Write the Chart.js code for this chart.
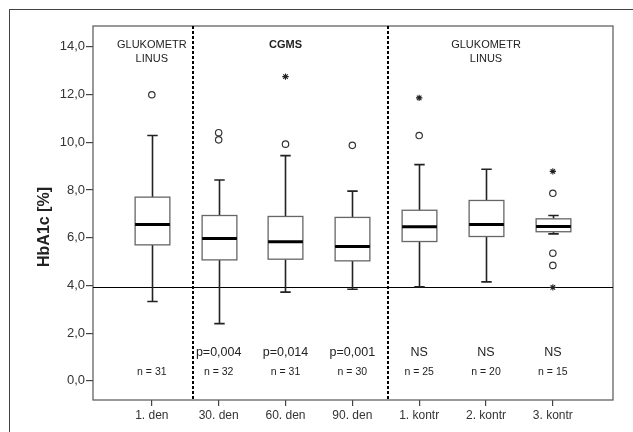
<!DOCTYPE html>
<html>
<head>
<meta charset="utf-8">
<script src="https://cdn.jsdelivr.net/npm/chart.js@4.4.0/dist/chart.umd.min.js"></script>
<style>
  html, body { margin: 0; padding: 0; background: #fff; }
  #wrap { position: relative; width: 633px; height: 432px; }
</style>
</head>
<body>
<div id="wrap"><canvas id="chart" width="633" height="432"></canvas></div>
<script>
// categories and box statistics
const categories = ['1. den', '30. den', '60. den', '90. den', '1. kontr', '2. kontr', '3. kontr'];
const whiskerLow  = [3.33, 2.40, 3.72, 3.84, 3.94, 4.15, 6.16];
const q1          = [5.70, 5.07, 5.10, 5.03, 5.84, 6.05, 6.25];
const median      = [6.55, 5.97, 5.83, 5.63, 6.46, 6.55, 6.47];
const q3          = [7.70, 6.93, 6.89, 6.85, 7.15, 7.56, 6.79];
const whiskerHigh = [10.28, 8.42, 9.44, 7.95, 9.06, 8.87, 6.93];

// outliers: [category index, value]
const outliersCircle = [[0, 11.99], [1, 10.40], [1, 10.10], [2, 9.92], [3, 9.87], [4, 10.28], [6, 7.86], [6, 5.35], [6, 4.84]];
const outliersStar   = [[2, 12.75], [4, 11.86], [6, 8.78], [6, 3.92]];

const pLabels = ['', 'p=0,004', 'p=0,014', 'p=0,001', 'NS', 'NS', 'NS'];
const nLabels = ['n = 31', 'n = 32', 'n = 31', 'n = 30', 'n = 25', 'n = 20', 'n = 15'];
const yTicks = [0, 2, 4, 6, 8, 10, 12, 14];
const refLine = 3.95;
const separators = [0.61, 3.53];
const groupHeads = [
  {x: 0, lines: ['GLUKOMETR', 'LINUS'], bold: false},
  {x: 2, lines: ['CGMS'], bold: true},
  {x: 5, lines: ['GLUKOMETR', 'LINUS'], bold: false}
];
const yTitle = 'HbA1c [%]';

const FONT = '"Liberation Sans", Arial, sans-serif';

const boxPlugin = {
  id: 'boxes',
  beforeDraw(chart) {
    const ctx = chart.ctx;
    ctx.save();
    ctx.strokeStyle = '#444';
    ctx.lineWidth = 1;
    ctx.strokeRect(9.5, 9.5, chart.width + 20, chart.height + 20);
    // y axis title
    ctx.translate(45, 227);
    ctx.rotate(-Math.PI / 2);
    ctx.fillStyle = '#222';
    ctx.font = 'bold 16px ' + FONT;
    ctx.textAlign = 'center';
    ctx.textBaseline = 'middle';
    ctx.fillText(yTitle, 0, 0);
    ctx.restore();
  },
  beforeDatasetsDraw(chart) {
    const ctx = chart.ctx;
    const x = chart.scales.x, y = chart.scales.y;
    const a = chart.chartArea;
    ctx.save();
    // plot frame
    ctx.strokeStyle = '#555';
    ctx.lineWidth = 1.2;
    ctx.strokeRect(a.left, a.top, a.right - a.left, a.bottom - a.top);

    // reference line
    ctx.strokeStyle = '#000';
    ctx.lineWidth = 1;
    const ry = Math.round(y.getPixelForValue(refLine)) + 0.5;
    ctx.beginPath(); ctx.moveTo(a.left, ry); ctx.lineTo(a.right, ry); ctx.stroke();

    // dashed separators
    ctx.setLineDash([3, 2]);
    ctx.lineWidth = 2;
    for (const s of separators) {
      const sx = Math.round(x.getPixelForValue(s));
      ctx.beginPath(); ctx.moveTo(sx, a.top); ctx.lineTo(sx, a.bottom); ctx.stroke();
    }
    ctx.setLineDash([]);

    const half = (x.getPixelForValue(1) - x.getPixelForValue(0)) * 0.26;
    const cap = half * 0.3;
    for (let i = 0; i < categories.length; i++) {
      const cx = Math.round(x.getPixelForValue(i)) + 0.5;
      const yLo = y.getPixelForValue(whiskerLow[i]);
      const yHi = y.getPixelForValue(whiskerHigh[i]);
      const y1 = y.getPixelForValue(q1[i]);
      const y3 = y.getPixelForValue(q3[i]);
      const ym = y.getPixelForValue(median[i]);
      // whiskers
      ctx.strokeStyle = '#222';
      ctx.lineWidth = 1.6;
      ctx.beginPath();
      ctx.moveTo(cx, y3); ctx.lineTo(cx, yHi);
      ctx.moveTo(cx - cap, yHi); ctx.lineTo(cx + cap, yHi);
      ctx.moveTo(cx, y1); ctx.lineTo(cx, yLo);
      ctx.moveTo(cx - cap, yLo); ctx.lineTo(cx + cap, yLo);
      ctx.stroke();
      // box
      ctx.fillStyle = '#fff';
      ctx.fillRect(cx - half, y3, half * 2, y1 - y3);
      ctx.strokeStyle = '#666';
      ctx.lineWidth = 1.3;
      ctx.strokeRect(cx - half, y3, half * 2, y1 - y3);
      // median
      ctx.strokeStyle = '#000';
      ctx.lineWidth = 3;
      ctx.beginPath(); ctx.moveTo(cx - half, ym); ctx.lineTo(cx + half, ym); ctx.stroke();
    }

    // texts
    ctx.fillStyle = '#222';
    ctx.textAlign = 'center';
    ctx.textBaseline = 'middle';
    for (let i = 0; i < categories.length; i++) {
      const cx = x.getPixelForValue(i);
      ctx.font = '12.5px ' + FONT;
      if (pLabels[i]) ctx.fillText(pLabels[i], cx, y.getPixelForValue(1.2));
      ctx.font = '10.5px ' + FONT;
      ctx.fillText(nLabels[i], cx, y.getPixelForValue(0.35));
    }
    for (const g of groupHeads) {
      ctx.font = (g.bold ? 'bold ' : '') + '11px ' + FONT;
      g.lines.forEach((t, k) => {
        ctx.fillText(t, x.getPixelForValue(g.x), y.getPixelForValue(14.07) + k * 13.5);
      });
    }
    ctx.restore();
  }
};

new Chart(document.getElementById('chart'), {
  type: 'scatter',
  data: {
    datasets: [
      {
        data: outliersCircle.map(p => ({x: p[0], y: p[1]})),
        pointStyle: 'circle',
        radius: 3.2,
        borderColor: '#333',
        backgroundColor: '#fff',
        borderWidth: 1.2
      },
      {
        data: outliersStar.map(p => ({x: p[0], y: p[1]})),
        pointStyle: 'star',
        radius: 3.2,
        borderColor: '#222',
        backgroundColor: '#222',
        borderWidth: 1.1
      }
    ]
  },
  options: {
    responsive: false,
    animation: false,
    events: [],
    layout: { padding: { left: 9, top: 26, right: 20, bottom: 0 } },
    plugins: { legend: { display: false }, tooltip: { enabled: false } },
    scales: {
      x: {
        type: 'linear',
        min: -0.88,
        max: 6.9,
        afterBuildTicks: s => { s.ticks = categories.map((c, i) => ({value: i})); },
        afterFit: s => { s.height = 32; },
        ticks: {
          callback: v => categories[v],
          color: '#333',
          font: { family: FONT, size: 12 },
          padding: 2,
          maxRotation: 0
        },
        grid: { drawOnChartArea: false, drawTicks: true, tickLength: 6, color: '#444', lineWidth: 1.2 },
        border: { display: false }
      },
      y: {
        type: 'linear',
        min: -0.8,
        max: 14.87,
        afterBuildTicks: s => { s.ticks = yTicks.map(v => ({value: v})); },
        afterFit: s => { s.width = 84; },
        ticks: {
          callback: v => v.toFixed(1).replace('.', ','),
          color: '#333',
          font: { family: FONT, size: 13 },
          padding: 1
        },
        grid: { drawOnChartArea: false, drawTicks: true, tickLength: 7, color: '#444', lineWidth: 1.2 },
        border: { display: false }
      }
    }
  },
  plugins: [boxPlugin]
});
</script>
</body>
</html>
